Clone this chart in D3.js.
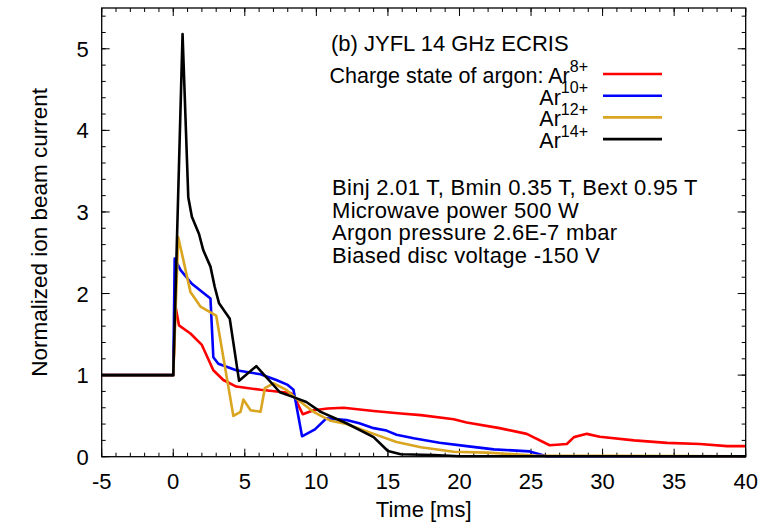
<!DOCTYPE html>
<html>
<head>
<meta charset="utf-8">
<script src="https://cdn.jsdelivr.net/npm/d3@7"></script>
<style>
	body { margin: 0; background: #fff; }
	svg text { font-family: "Liberation Sans", Arial, sans-serif; fill: #000; }
</style>
</head>
<body>
<script>
// time [ms] and normalized current
var ar8T  = [-5, 0, 0.15, 0.4, 1.2, 2.0, 2.8, 3.5, 4.4, 6.1, 8.2, 8.4, 9.05, 9.8, 10.8, 11.9, 14, 15.9, 17.3, 19.6, 20.5, 22.8, 24.7, 26.3, 27.5, 28.0, 28.9, 29.8, 32.2, 34.5, 36.8, 38.7, 40];
var ar8V  = [1, 1, 1.85, 1.61, 1.51, 1.37, 1.06, 0.94, 0.86, 0.82, 0.78, 0.755, 0.52, 0.57, 0.59, 0.60, 0.56, 0.53, 0.51, 0.46, 0.42, 0.35, 0.28, 0.14, 0.155, 0.24, 0.28, 0.245, 0.20, 0.17, 0.155, 0.13, 0.13];

var ar10T = [-5, 0, 0.1, 0.5, 1.3, 2.6, 2.8, 3.15, 4.4, 6.1, 7.2, 8.0, 8.4, 9.0, 9.9, 10.7, 12.1, 13.0, 14.0, 14.9, 15.6, 16.8, 18.6, 20.5, 22.4, 24.9, 26.1, 40];
var ar10V = [1, 1, 2.43, 2.29, 2.12, 1.94, 1.22, 1.14, 1.06, 1.01, 0.94, 0.88, 0.82, 0.25, 0.335, 0.47, 0.45, 0.41, 0.35, 0.32, 0.27, 0.225, 0.17, 0.13, 0.09, 0.065, 0.005, 0.005];

var ar12T = [-5, 0, 0.35, 1.2, 1.9, 3.0, 4.2, 4.7, 4.9, 5.4, 6.1, 6.4, 7.0, 7.9, 8.6, 9.8, 11.0, 12.1, 14.0, 15.6, 17.3, 19.6, 21.9, 25.2, 40];
var ar12V = [1, 1, 2.69, 2.02, 1.84, 1.73, 0.50, 0.55, 0.70, 0.57, 0.55, 0.84, 0.90, 0.82, 0.71, 0.55, 0.44, 0.40, 0.28, 0.18, 0.115, 0.06, 0.05, 0.015, 0.005];

var ar14T = [-5, 0, 0.65, 1.05, 1.3, 1.8, 2.1, 2.6, 2.9, 3.2, 3.95, 4.6, 5.8, 7.45, 8.4, 9.3, 10.3, 12.1, 14.0, 15.0, 15.9, 18.2, 20, 40];
var ar14V = [1, 1, 5.18, 3.18, 2.94, 2.73, 2.53, 2.33, 2.08, 1.88, 1.69, 0.93, 1.11, 0.79, 0.73, 0.67, 0.55, 0.41, 0.24, 0.07, 0.03, 0.02, 0.005, 0.005];

var seriesNames  = ["8+", "10+", "12+", "14+"];
var seriesColors = ["#ff0000", "#0000ff", "#daa520", "#000000"];
var xTicks = [-5, 0, 5, 10, 15, 20, 25, 30, 35, 40];
var yTicks = [0, 1, 2, 3, 4, 5];
var infoLines = ["Binj 2.01 T, Bmin 0.35 T, Bext 0.95 T", "Microwave power 500 W",
	"Argon pressure 2.6E-7 mbar", "Biased disc voltage -150 V"];

var svg = d3.select("body").append("svg")
	.attr("width", 765)
	.attr("height", 524);

var margin = {top: 8, right: 19.3, bottom: 67.3, left: 101.7},
	width = 765 - margin.left - margin.right,
	height = 524 - margin.top - margin.bottom,
	g = svg.append("g").attr("transform", "translate(" + margin.left + "," + margin.top + ")");

var x = d3.scaleLinear().domain([-5, 40]).range([0, width]);
var y = d3.scaleLinear().domain([0, 5.5]).range([height, 0]);

function translate(a, b) { return "translate(" + a + "," + b + ")"; }

// minor + major ticks on all four sides, pointing in
var xMinor = d3.range(-5, 40.01, 1), yMinor = d3.range(0, 5.51, 0.2);
function tickSet(vals, len, side)
{
	var sel = g.append("g").attr("stroke", "#000").attr("stroke-width", 1)
		.selectAll("line").data(vals).enter().append("line");
	if (side == "bottom") sel.attr("x1", x).attr("x2", x).attr("y1", height).attr("y2", height - len);
	if (side == "top") sel.attr("x1", x).attr("x2", x).attr("y1", 0).attr("y2", len);
	if (side == "left") sel.attr("y1", y).attr("y2", y).attr("x1", 0).attr("x2", len);
	if (side == "right") sel.attr("y1", y).attr("y2", y).attr("x1", width).attr("x2", width - len);
}
["bottom", "top"].forEach(function(s){ tickSet(xMinor, 4, s); tickSet(xTicks, 8, s); });
["left", "right"].forEach(function(s){ tickSet(yMinor, 4, s); tickSet(yTicks, 8, s); });

g.append("g").selectAll("text").data(xTicks).enter().append("text")
	.attr("x", x).attr("y", height + 32)
	.attr("text-anchor", "middle").attr("font-size", 22)
	.text(function(d){ return d; });

g.append("g").selectAll("text").data(yTicks).enter().append("text")
	.attr("x", -13).attr("y", function(d){ return y(d) + 8; })
	.attr("text-anchor", "end").attr("font-size", 22)
	.text(function(d){ return d; });

var line = d3.line()
	.x(function(d){ return x(d[0]); })
	.y(function(d){ return y(d[1]); });

var series = [[ar8T, ar8V], [ar10T, ar10V], [ar12T, ar12V], [ar14T, ar14V]];
series.forEach(function(s, i)
{
	var pts = s[0].map(function(t, j){ return [t, s[1][j]]; });
	g.append("path")
		.attr("d", line(pts))
		.attr("fill", "none")
		.attr("stroke", seriesColors[i])
		.attr("stroke-width", 2.6)
		.attr("stroke-linejoin", "round");
});

// frame
g.append("rect")
	.attr("width", width).attr("height", height)
	.attr("fill", "none").attr("stroke", "#000").attr("stroke-width", 1.3);

// title + legend
svg.append("text").attr("x", 331).attr("y", 51).attr("font-size", 22)
	.text("(b) JYFL 14 GHz ECRIS");

var legend = svg.append("g").selectAll("g").data(seriesNames).enter().append("g")
	.attr("transform", function(d, i){ return translate(0, 74 + i * 21.7); });

legend.append("line")
	.attr("x1", 603).attr("x2", 662)
	.attr("stroke", function(d, i){ return seriesColors[i]; })
	.attr("stroke-width", 2.6);

var lt = legend.append("text")
	.attr("x", 588).attr("y", 9)
	.attr("text-anchor", "end").attr("font-size", 21.5);
lt.append("tspan").text(function(d, i){ return (i == 0 ? "Charge state of argon: " : "") + "Ar"; });
lt.append("tspan").attr("dy", -11.5).attr("font-size", 16).text(function(d){ return d; });

svg.append("g").selectAll("text").data(infoLines).enter().append("text")
	.attr("x", 332).attr("y", function(d, i){ return 195 + i * 22.6; })
	.attr("font-size", 22).attr("letter-spacing", 0.3)
	.text(function(d){ return d; });

// axis titles
svg.append("text")
	.attr("transform", "translate(46.5," + (margin.top + height / 2) + ") rotate(-90)")
	.attr("text-anchor", "middle").attr("font-size", 22.5)
	.text("Normalized ion beam current");

svg.append("text")
	.attr("x", margin.left + width / 2).attr("y", 517)
	.attr("text-anchor", "middle").attr("font-size", 22)
	.text("Time [ms]");
</script>
</body>
</html>
